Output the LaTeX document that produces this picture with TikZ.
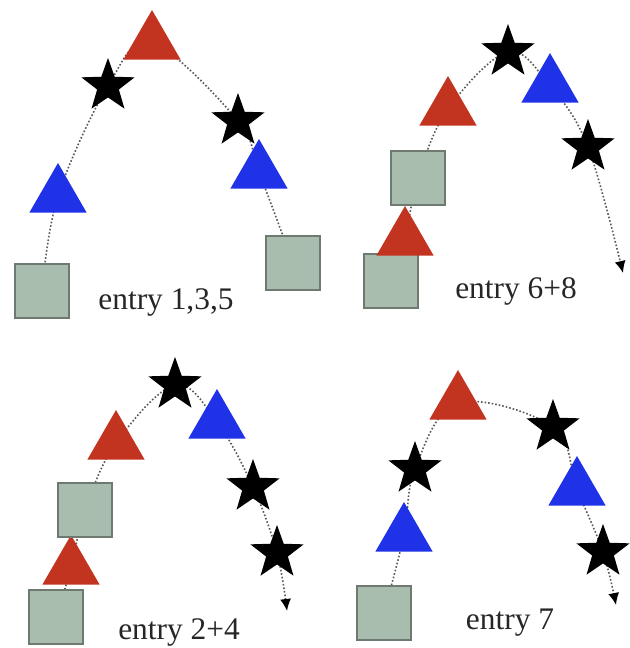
\documentclass[tikz,border=0pt]{standalone}
\usepackage{fontspec}
\setmainfont{Liberation Serif}
\usetikzlibrary{shapes.geometric,arrows.meta,backgrounds}

\definecolor{redtri}{HTML}{C23420}
\definecolor{bluetri}{HTML}{1F32E8}
\definecolor{boxfill}{HTML}{A8BDAE}
\definecolor{boxline}{HTML}{6E7A70}

\tikzset{
  redt/.style={regular polygon, regular polygon sides=3, fill=redtri, minimum size=33pt, inner sep=0pt},
  bluet/.style={regular polygon, regular polygon sides=3, fill=bluetri, minimum size=33pt, inner sep=0pt},
  starn/.style={star, star points=5, star point ratio=2.45, fill=black, minimum size=28pt, inner sep=0pt},
  boxn/.style={rectangle, fill=boxfill, draw=boxline, line width=0.7pt, minimum size=27pt, inner sep=0pt},
  trail/.style={densely dotted, line width=0.8pt, black!65},
  tip/.style={-{Latex[length=6pt, width=5.5pt, black]}},
  entry/.style={font=\fontsize{15.7}{18}\selectfont, text=black!85}
}

\begin{document}
\begin{tikzpicture}[x=0.5pt, y=-0.5pt]
\useasboundingbox (0,0) rectangle (629,648);

% entry 1,3,5
\node[boxn] (a1) at (42,291) {};
\node[bluet] (a2) at (58,196) {};
\node[starn] (a3) at (108,86) {};
\node[redt] (a4) at (152,43) {};
\node[starn] (a5) at (238,121) {};
\node[bluet] (a6) at (259,172) {};
\node[boxn] (a7) at (293,263) {};
\node[entry] (la) at (166,302) {entry 1,3,5};

% entry 6+8
\node[boxn] (b1) at (391,281) {};
\node[redt] (b2) at (405,239) {};
\node[boxn] (b3) at (418,178) {};
\node[redt] (b4) at (448,109) {};
\node[starn] (b5) at (508,52) {};
\node[bluet] (b6) at (550,86) {};
\node[starn] (b7) at (588,147) {};
\coordinate (b8) at (623,273);
\node[entry] (lb) at (516,291) {entry 6+8};

% entry 2+4
\node[boxn] (c1) at (56,617) {};
\node[redt] (c2) at (71,568) {};
\node[boxn] (c3) at (85,510) {};
\node[redt] (c4) at (116,443) {};
\node[starn] (c5) at (175,385) {};
\node[bluet] (c6) at (217,422) {};
\node[starn] (c7) at (253,487) {};
\node[starn] (c8) at (277,553) {};
\coordinate (c9) at (287,611);
\node[entry] (lc) at (179,632) {entry 2+4};

% entry 7
\node[boxn] (d1) at (384,613) {};
\node[bluet] (d2) at (404,535) {};
\node[starn] (d3) at (415,469) {};
\node[redt] (d4) at (458,403) {};
\node[starn] (d5) at (553,427) {};
\node[bluet] (d6) at (577,489) {};
\node[starn] (d7) at (603,552) {};
\coordinate (d8) at (616,605);
\node[entry] (ld) at (510,623) {entry 7};

\begin{pgfonlayer}{background}
\draw[trail] plot[smooth, tension=0.6] coordinates {(a1) (a2) (a3) (a4) (a5) (a6) (a7)};
\draw[trail, tip] plot[smooth, tension=0.6] coordinates {(b1) (b2) (b3) (b4) (b5) (b6) (b7) (b8)};
\draw[trail, tip] plot[smooth, tension=0.6] coordinates {(c1) (c2) (c3) (c4) (c5) (c6) (c7) (c8) (c9)};
\draw[trail, tip] plot[smooth, tension=0.6] coordinates {(d1) (d2) (d3) (d4) (d5) (d6) (d7) (d8)};
\end{pgfonlayer}
\end{tikzpicture}
\end{document}
